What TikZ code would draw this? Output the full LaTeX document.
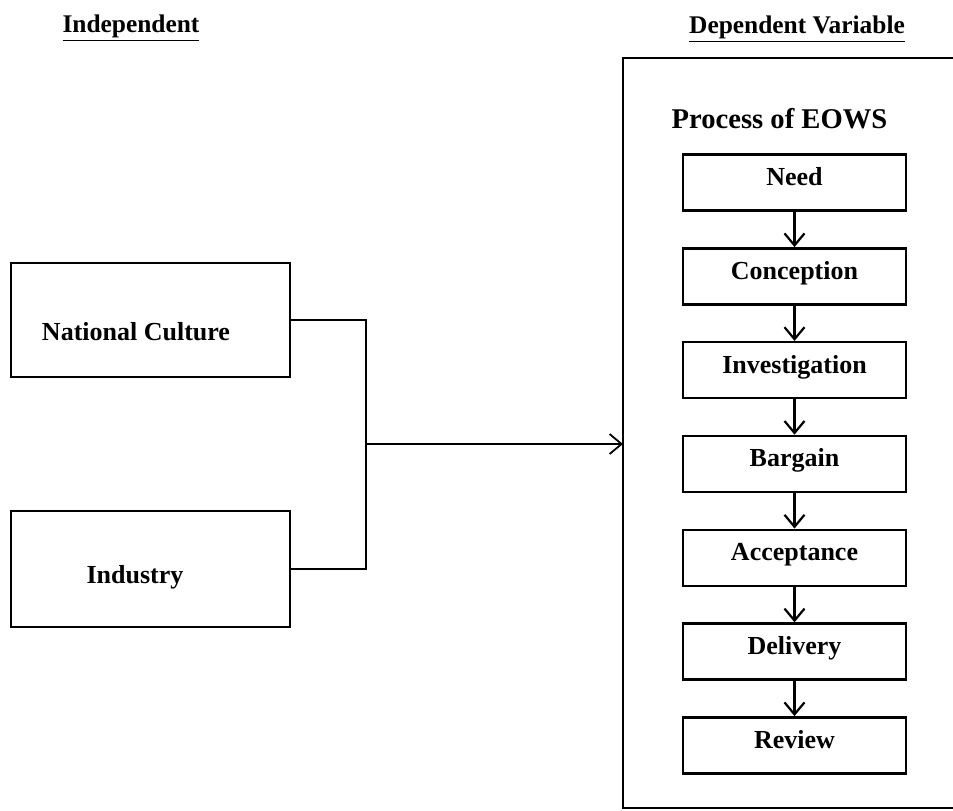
\documentclass[tikz,border=0pt]{standalone}
\usepackage{fontspec}
\setmainfont{Liberation Serif}
\usetikzlibrary{arrows.meta,positioning}

\tikzset{
  head/.style={font=\fontsize{12.7pt}{15pt}\selectfont\bfseries, inner sep=0pt, anchor=base},
  box/.style={draw, line width=1pt, minimum width=139.5pt, minimum height=57pt, inner sep=0pt},
  lbl/.style={font=\fontsize{13pt}{15pt}\selectfont\bfseries, inner sep=0pt, anchor=base},
  stage/.style={draw, line width=1.2pt, minimum width=111.5pt, minimum height=28pt, inner sep=0pt,
    text height=0.75em, text depth=0.45em, font=\fontsize{13pt}{15pt}\selectfont\bfseries},
  link/.style={line width=0.9pt},
  flow/.style={line width=1.1pt, -{Straight Barb[length=6pt,width=10pt]}}
}

\begin{document}
\begin{tikzpicture}[x=0.5pt, y=-0.5pt]
\useasboundingbox (0,0) rectangle (953,810);

% column titles
\node[head] (indep) at (131,32) {\underline{Independent}};
\node[head] (dep) at (797,33) {\underline{Dependent Variable}};

% independent variables
\node[box] (nc) at (150.5,320) {};
\node[lbl] (nclabel) at ([xshift=-7.25pt, yshift=-10pt]nc.center) {National Culture};
\node[box, minimum height=58pt] (ind) at (150.5,569) {};
\node[lbl] (indlabel) at ([xshift=-7.75pt, yshift=-7pt]ind.center) {Industry};

% dependent variable frame (runs off the right edge)
\coordinate (eows-tr) at (953,58);
\coordinate (eows-tl) at (623,58);
\coordinate (eows-bl) at (623,808);
\coordinate (eows-br) at (953,808);
\draw[line width=1pt] (eows-tr) -- (eows-tl) -- (eows-bl) -- (eows-br);

\node[lbl, font=\fontsize{14.3pt}{16pt}\selectfont\bfseries] (eows) at (779.5,128) {Process of EOWS};

% process stages
\node[stage] (need) at (794.5,182.5) {Need};
\node[stage, below=17.7pt of need] (conception) {Conception};
\node[stage, below=17.7pt of conception] (investigation) {Investigation};
\node[stage, below=17.7pt of investigation] (bargain) {Bargain};
\node[stage, below=17.7pt of bargain] (acceptance) {Acceptance};
\node[stage, below=17.7pt of acceptance] (delivery) {Delivery};
\node[stage, below=17.7pt of delivery] (review) {Review};

\draw[flow] (need) -- (conception);
\draw[flow] (conception) -- (investigation);
\draw[flow] (investigation) -- (bargain);
\draw[flow] (bargain) -- (acceptance);
\draw[flow] (acceptance) -- (delivery);
\draw[flow] (delivery) -- (review);

% joining lines
\coordinate (jn) at (366,444);
\draw[link] (nc.east) -| (jn) |- (ind.east);
\draw[flow, line width=0.9pt] (jn) -- (jn -| eows-tl);
\end{tikzpicture}
\end{document}
